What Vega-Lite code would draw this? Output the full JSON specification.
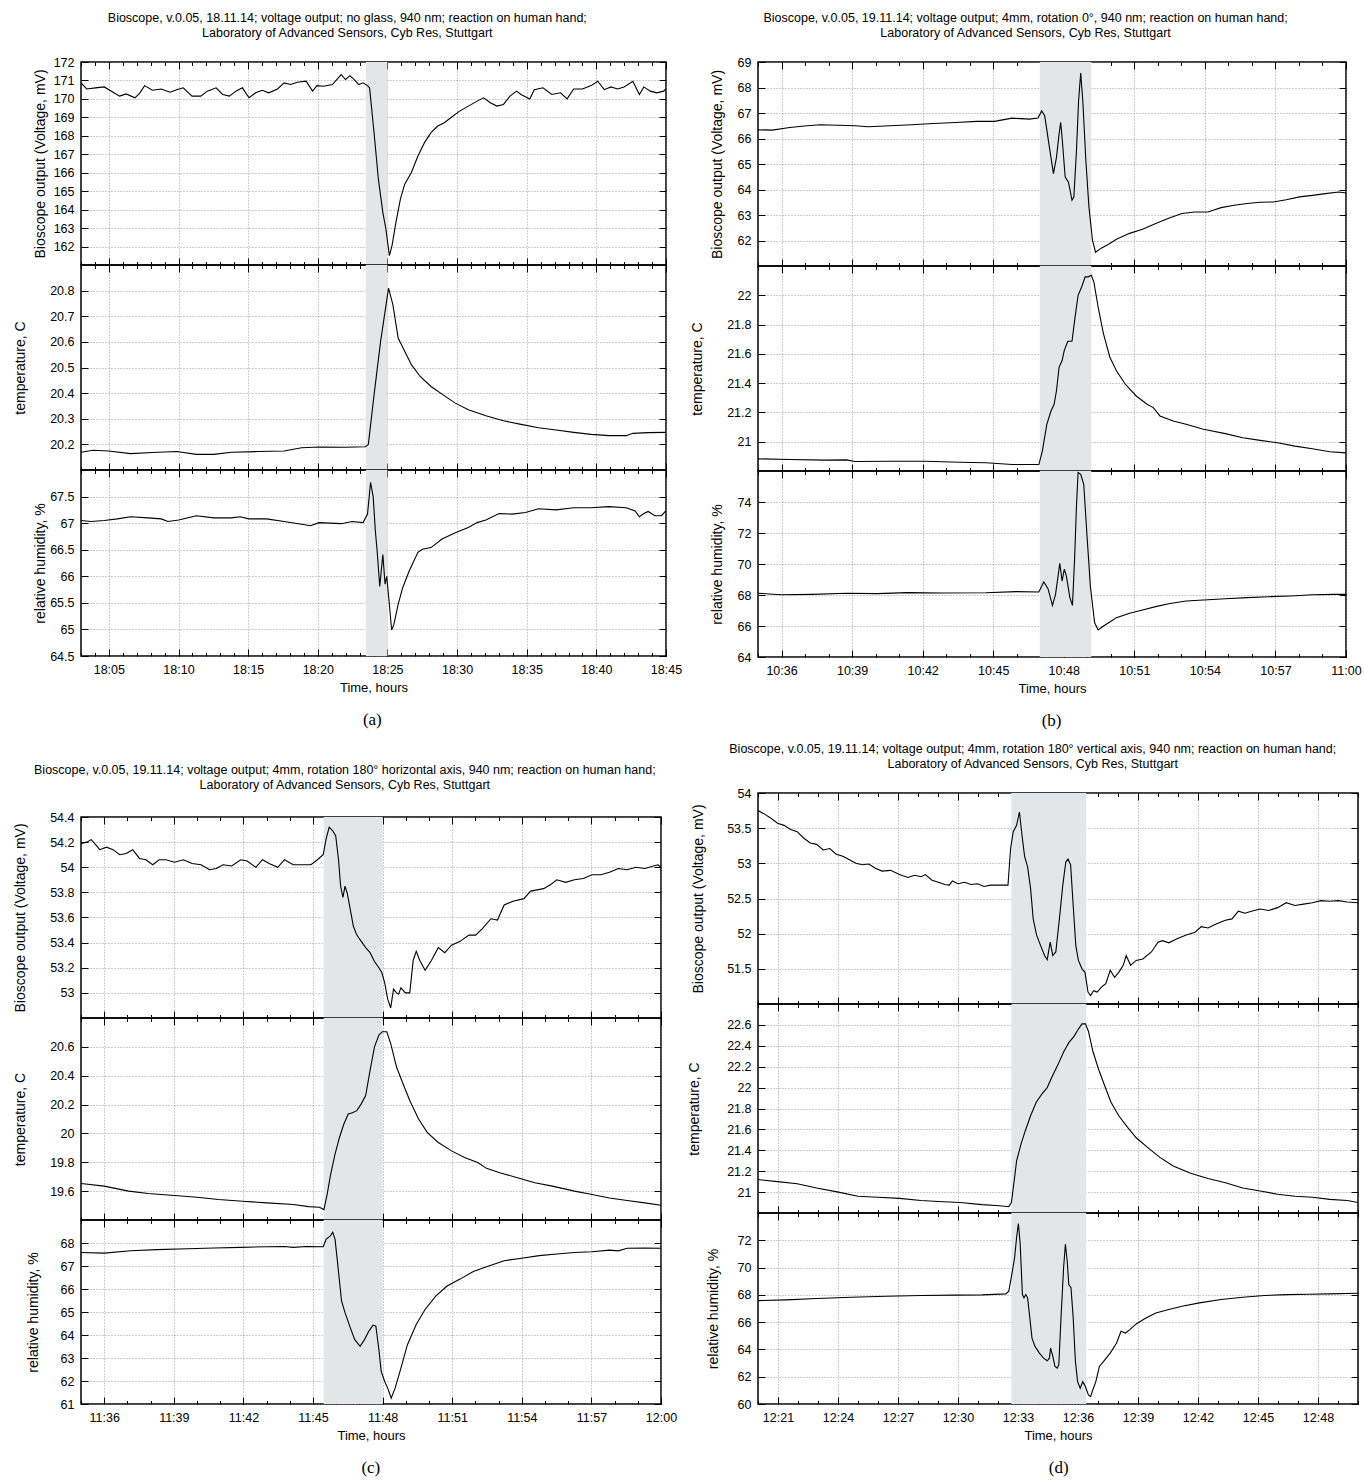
{
"$schema": "https://vega.github.io/schema/vega-lite/v6.json",
"padding": {"left": 12, "top": 11, "right": 0, "bottom": 5},
"background": "white",
"config": {
  "font": "Liberation Sans",
  "view": {"stroke": "#000", "strokeWidth": 1.5},
  "axis": {"labelFont": "Liberation Sans", "labelFontSize": 12.5, "labelColor": "#000", "titleFont": "Liberation Sans", "titleFontSize": 14, "titleFontWeight": "normal", "titleColor": "#000", "tickColor": "#000", "tickWidth": 1, "gridColor": "#808080", "gridDash": [1, 2], "gridWidth": 0.8, "labelFlush": false, "domain": false, "zindex": 1},
  "axisX": {"titleFontSize": 13},
  "title": {"font": "Liberation Sans", "fontSize": 12.5, "fontWeight": "normal", "color": "#000", "lineHeight": 15, "anchor": "middle"},
  "line": {"color": "#000", "strokeWidth": 1.1},
  "rect": {"color": "#e4e5e7"}
},
"datasets": {
"sa": [{"t0": 1103.45, "t1": 1105.0}],
"sb": [{"t0": 646.98, "t1": 649.17}],
"sc": [{"t0": 705.46, "t1": 708.0}],
"sd": [{"t0": 752.67, "t1": 756.41}],
"a1": [{"t":1083.00,"v":170.87},{"t":1083.41,"v":170.54},{"t":1084.04,"v":170.6},{"t":1084.67,"v":170.65},{"t":1085.30,"v":170.36},{"t":1085.77,"v":170.15},{"t":1086.24,"v":170.27},{"t":1086.87,"v":170.06},{"t":1087.19,"v":170.29},{"t":1087.57,"v":170.72},{"t":1088.13,"v":170.47},{"t":1088.76,"v":170.54},{"t":1089.39,"v":170.36},{"t":1089.87,"v":170.5},{"t":1090.34,"v":170.6},{"t":1090.97,"v":170.15},{"t":1091.60,"v":170.15},{"t":1092.07,"v":170.42},{"t":1092.70,"v":170.6},{"t":1093.17,"v":170.24},{"t":1093.65,"v":170.15},{"t":1094.12,"v":170.42},{"t":1094.59,"v":170.6},{"t":1095.06,"v":170.06},{"t":1095.54,"v":170.33},{"t":1096.01,"v":170.47},{"t":1096.48,"v":170.33},{"t":1097.11,"v":170.54},{"t":1097.58,"v":170.87},{"t":1098.06,"v":170.78},{"t":1098.53,"v":170.9},{"t":1099.16,"v":170.96},{"t":1099.63,"v":170.42},{"t":1099.94,"v":170.72},{"t":1100.42,"v":170.69},{"t":1101.05,"v":170.78},{"t":1101.68,"v":171.32},{"t":1101.99,"v":171.05},{"t":1102.31,"v":171.26},{"t":1102.62,"v":171.05},{"t":1102.94,"v":170.78},{"t":1103.25,"v":170.87},{"t":1103.57,"v":170.72},{"t":1103.72,"v":170.6},{"t":1104.04,"v":168.17},{"t":1104.35,"v":165.65},{"t":1104.67,"v":163.85},{"t":1104.89,"v":162.95},{"t":1105.14,"v":161.51},{"t":1105.33,"v":162.05},{"t":1105.61,"v":163.31},{"t":1105.93,"v":164.57},{"t":1106.24,"v":165.38},{"t":1106.72,"v":166.01},{"t":1107.19,"v":166.91},{"t":1107.66,"v":167.63},{"t":1108.13,"v":168.17},{"t":1108.61,"v":168.53},{"t":1109.08,"v":168.71},{"t":1109.55,"v":168.98},{"t":1110.18,"v":169.34},{"t":1110.81,"v":169.61},{"t":1111.44,"v":169.88},{"t":1111.91,"v":170.06},{"t":1112.39,"v":169.79},{"t":1112.86,"v":169.61},{"t":1113.33,"v":169.7},{"t":1113.80,"v":170.15},{"t":1114.28,"v":170.42},{"t":1114.59,"v":170.24},{"t":1115.22,"v":170.0},{"t":1115.54,"v":170.5},{"t":1116.17,"v":170.6},{"t":1116.80,"v":170.24},{"t":1117.43,"v":170.33},{"t":1117.90,"v":170.0},{"t":1118.37,"v":170.54},{"t":1119.00,"v":170.54},{"t":1119.63,"v":170.72},{"t":1120.10,"v":170.96},{"t":1120.57,"v":170.5},{"t":1121.05,"v":170.65},{"t":1121.52,"v":170.54},{"t":1121.99,"v":170.65},{"t":1122.62,"v":170.96},{"t":1123.09,"v":170.24},{"t":1123.41,"v":170.65},{"t":1123.87,"v":170.42},{"t":1124.35,"v":170.33},{"t":1124.83,"v":170.42},{"t":1124.98,"v":170.54}],
"a2": [{"t":1083.00,"v":20.169},{"t":1083.88,"v":20.177},{"t":1084.98,"v":20.174},{"t":1086.56,"v":20.164},{"t":1088.13,"v":20.168},{"t":1089.87,"v":20.172},{"t":1091.28,"v":20.161},{"t":1092.54,"v":20.161},{"t":1093.80,"v":20.169},{"t":1095.69,"v":20.172},{"t":1097.58,"v":20.174},{"t":1098.84,"v":20.187},{"t":1100.10,"v":20.190},{"t":1101.99,"v":20.189},{"t":1103.41,"v":20.191},{"t":1103.63,"v":20.2},{"t":1104.04,"v":20.393},{"t":1104.51,"v":20.602},{"t":1105.08,"v":20.810},{"t":1105.39,"v":20.745},{"t":1105.77,"v":20.615},{"t":1106.24,"v":20.563},{"t":1106.72,"v":20.511},{"t":1107.35,"v":20.465},{"t":1108.13,"v":20.426},{"t":1108.92,"v":20.396},{"t":1109.87,"v":20.361},{"t":1110.81,"v":20.335},{"t":1112.07,"v":20.312},{"t":1113.33,"v":20.292},{"t":1114.59,"v":20.278},{"t":1115.85,"v":20.265},{"t":1117.11,"v":20.256},{"t":1118.37,"v":20.247},{"t":1119.63,"v":20.239},{"t":1120.89,"v":20.234},{"t":1122.15,"v":20.234},{"t":1122.62,"v":20.243},{"t":1123.72,"v":20.246},{"t":1124.98,"v":20.247}],
"a3": [{"t":1083.00,"v":67.05},{"t":1083.72,"v":67.03},{"t":1084.67,"v":67.05},{"t":1085.61,"v":67.08},{"t":1086.56,"v":67.12},{"t":1087.82,"v":67.10},{"t":1088.76,"v":67.08},{"t":1089.24,"v":67.03},{"t":1090.02,"v":67.06},{"t":1091.28,"v":67.14},{"t":1092.54,"v":67.10},{"t":1093.80,"v":67.10},{"t":1094.43,"v":67.12},{"t":1095.06,"v":67.08},{"t":1096.32,"v":67.08},{"t":1097.58,"v":67.03},{"t":1098.84,"v":66.98},{"t":1099.47,"v":66.95},{"t":1100.10,"v":67.01},{"t":1101.68,"v":66.99},{"t":1102.46,"v":67.03},{"t":1103.25,"v":67.01},{"t":1103.57,"v":67.17},{"t":1103.79,"v":67.77},{"t":1103.98,"v":67.49},{"t":1104.13,"v":66.86},{"t":1104.26,"v":66.48},{"t":1104.45,"v":65.81},{"t":1104.67,"v":66.41},{"t":1104.83,"v":65.85},{"t":1104.95,"v":66.0},{"t":1105.05,"v":65.72},{"t":1105.14,"v":65.47},{"t":1105.30,"v":64.99},{"t":1105.46,"v":65.09},{"t":1105.77,"v":65.47},{"t":1106.09,"v":65.78},{"t":1106.56,"v":66.10},{"t":1107.19,"v":66.45},{"t":1107.50,"v":66.51},{"t":1108.13,"v":66.54},{"t":1108.92,"v":66.70},{"t":1109.87,"v":66.82},{"t":1110.81,"v":66.92},{"t":1111.44,"v":67.01},{"t":1112.07,"v":67.06},{"t":1113.02,"v":67.18},{"t":1113.96,"v":67.17},{"t":1114.91,"v":67.20},{"t":1115.85,"v":67.27},{"t":1117.11,"v":67.25},{"t":1118.37,"v":67.29},{"t":1119.63,"v":67.29},{"t":1120.89,"v":67.31},{"t":1122.15,"v":67.29},{"t":1122.78,"v":67.23},{"t":1123.09,"v":67.12},{"t":1123.41,"v":67.18},{"t":1123.72,"v":67.22},{"t":1124.20,"v":67.14},{"t":1124.67,"v":67.14},{"t":1124.98,"v":67.23}],
"b1": [{"t":635.00,"v":66.34},{"t":635.61,"v":66.33},{"t":636.35,"v":66.43},{"t":637.09,"v":66.50},{"t":637.65,"v":66.54},{"t":638.39,"v":66.52},{"t":639.13,"v":66.50},{"t":639.69,"v":66.46},{"t":640.61,"v":66.50},{"t":641.54,"v":66.54},{"t":642.46,"v":66.59},{"t":643.39,"v":66.63},{"t":644.31,"v":66.67},{"t":645.06,"v":66.67},{"t":645.80,"v":66.80},{"t":646.54,"v":66.76},{"t":646.91,"v":66.80},{"t":647.06,"v":67.08},{"t":647.19,"v":66.89},{"t":647.37,"v":65.78},{"t":647.56,"v":64.62},{"t":647.69,"v":65.26},{"t":647.80,"v":66.17},{"t":647.87,"v":66.63},{"t":647.94,"v":65.91},{"t":648.06,"v":64.49},{"t":648.20,"v":64.29},{"t":648.35,"v":63.58},{"t":648.43,"v":63.71},{"t":648.54,"v":65.52},{"t":648.63,"v":67.47},{"t":648.72,"v":68.57},{"t":648.81,"v":67.47},{"t":648.94,"v":65.13},{"t":649.07,"v":63.32},{"t":649.22,"v":62.02},{"t":649.35,"v":61.54},{"t":649.59,"v":61.70},{"t":649.87,"v":61.83},{"t":650.24,"v":62.05},{"t":650.80,"v":62.28},{"t":651.35,"v":62.44},{"t":651.91,"v":62.67},{"t":652.46,"v":62.87},{"t":653.02,"v":63.06},{"t":653.57,"v":63.12},{"t":654.13,"v":63.12},{"t":654.69,"v":63.29},{"t":655.24,"v":63.38},{"t":655.80,"v":63.45},{"t":656.35,"v":63.50},{"t":656.91,"v":63.51},{"t":657.46,"v":63.60},{"t":658.02,"v":63.71},{"t":658.57,"v":63.77},{"t":659.13,"v":63.84},{"t":659.69,"v":63.90},{"t":660.00,"v":63.86}],
"b2": [{"t":635.00,"v":20.883},{"t":636.35,"v":20.879},{"t":637.83,"v":20.874},{"t":638.76,"v":20.876},{"t":639.13,"v":20.865},{"t":640.61,"v":20.867},{"t":642.09,"v":20.867},{"t":643.57,"v":20.860},{"t":644.69,"v":20.856},{"t":645.80,"v":20.844},{"t":646.94,"v":20.844},{"t":647.09,"v":20.936},{"t":647.28,"v":21.119},{"t":647.46,"v":21.211},{"t":647.59,"v":21.256},{"t":647.69,"v":21.348},{"t":647.80,"v":21.508},{"t":647.93,"v":21.554},{"t":648.02,"v":21.622},{"t":648.17,"v":21.686},{"t":648.35,"v":21.686},{"t":648.48,"v":21.851},{"t":648.61,"v":22.0},{"t":648.76,"v":22.057},{"t":648.91,"v":22.126},{"t":649.04,"v":22.126},{"t":649.17,"v":22.137},{"t":649.28,"v":22.092},{"t":649.46,"v":21.920},{"t":649.69,"v":21.737},{"t":649.96,"v":21.577},{"t":650.24,"v":21.485},{"t":650.61,"v":21.394},{"t":651.07,"v":21.314},{"t":651.54,"v":21.256},{"t":651.81,"v":21.233},{"t":652.09,"v":21.176},{"t":652.65,"v":21.142},{"t":653.20,"v":21.119},{"t":653.94,"v":21.085},{"t":654.87,"v":21.055},{"t":655.61,"v":21.027},{"t":656.35,"v":21.009},{"t":657.09,"v":20.993},{"t":657.83,"v":20.970},{"t":658.57,"v":20.952},{"t":659.31,"v":20.931},{"t":660.00,"v":20.924}],
"b3": [{"t":635.00,"v":68.11},{"t":635.98,"v":68.02},{"t":637.28,"v":68.04},{"t":638.76,"v":68.11},{"t":640.06,"v":68.09},{"t":641.35,"v":68.15},{"t":642.83,"v":68.13},{"t":644.69,"v":68.15},{"t":645.98,"v":68.22},{"t":646.94,"v":68.19},{"t":647.15,"v":68.84},{"t":647.33,"v":68.41},{"t":647.52,"v":67.33},{"t":647.65,"v":68.04},{"t":647.76,"v":69.23},{"t":647.83,"v":70.04},{"t":647.93,"v":68.90},{"t":648.02,"v":69.66},{"t":648.11,"v":69.23},{"t":648.26,"v":67.83},{"t":648.37,"v":67.33},{"t":648.46,"v":70.30},{"t":648.54,"v":73.74},{"t":648.61,"v":75.9},{"t":648.72,"v":75.78},{"t":648.85,"v":75.14},{"t":648.98,"v":72.02},{"t":649.13,"v":68.58},{"t":649.31,"v":66.22},{"t":649.46,"v":65.74},{"t":649.69,"v":66.00},{"t":649.96,"v":66.26},{"t":650.24,"v":66.54},{"t":650.80,"v":66.82},{"t":651.35,"v":67.03},{"t":651.91,"v":67.25},{"t":652.46,"v":67.44},{"t":653.20,"v":67.61},{"t":653.94,"v":67.68},{"t":654.87,"v":67.76},{"t":655.80,"v":67.83},{"t":656.72,"v":67.89},{"t":657.65,"v":67.94},{"t":658.57,"v":68.02},{"t":659.50,"v":68.04},{"t":660.00,"v":68.04}],
"c1": [{"t":695.00,"v":54.19},{"t":695.25,"v":54.20},{"t":695.44,"v":54.22},{"t":695.63,"v":54.18},{"t":695.81,"v":54.14},{"t":696.10,"v":54.16},{"t":696.38,"v":54.14},{"t":696.67,"v":54.10},{"t":696.95,"v":54.11},{"t":697.23,"v":54.14},{"t":697.52,"v":54.07},{"t":697.80,"v":54.06},{"t":698.09,"v":54.02},{"t":698.37,"v":54.06},{"t":698.66,"v":54.06},{"t":699.03,"v":54.04},{"t":699.41,"v":54.06},{"t":699.79,"v":54.03},{"t":700.17,"v":54.02},{"t":700.55,"v":53.98},{"t":700.83,"v":53.99},{"t":701.12,"v":54.02},{"t":701.50,"v":54.01},{"t":701.88,"v":54.06},{"t":702.16,"v":54.05},{"t":702.54,"v":54.00},{"t":702.82,"v":54.06},{"t":703.11,"v":54.03},{"t":703.48,"v":54.00},{"t":703.77,"v":54.06},{"t":704.15,"v":54.02},{"t":704.53,"v":54.02},{"t":704.91,"v":54.02},{"t":705.19,"v":54.06},{"t":705.44,"v":54.10},{"t":705.57,"v":54.23},{"t":705.70,"v":54.32},{"t":705.85,"v":54.29},{"t":705.98,"v":54.25},{"t":706.10,"v":54.06},{"t":706.19,"v":53.85},{"t":706.29,"v":53.76},{"t":706.38,"v":53.85},{"t":706.48,"v":53.79},{"t":706.61,"v":53.66},{"t":706.74,"v":53.53},{"t":706.89,"v":53.46},{"t":707.08,"v":53.41},{"t":707.27,"v":53.36},{"t":707.46,"v":53.32},{"t":707.65,"v":53.25},{"t":707.84,"v":53.20},{"t":707.97,"v":53.16},{"t":708.09,"v":53.08},{"t":708.22,"v":52.95},{"t":708.35,"v":52.88},{"t":708.47,"v":53.03},{"t":708.60,"v":53.00},{"t":708.69,"v":52.99},{"t":708.79,"v":53.04},{"t":708.98,"v":53.00},{"t":709.17,"v":53.00},{"t":709.32,"v":53.26},{"t":709.45,"v":53.33},{"t":709.60,"v":53.26},{"t":709.83,"v":53.18},{"t":710.11,"v":53.26},{"t":710.40,"v":53.36},{"t":710.68,"v":53.32},{"t":710.97,"v":53.38},{"t":711.34,"v":53.41},{"t":711.72,"v":53.46},{"t":712.01,"v":53.46},{"t":712.29,"v":53.51},{"t":712.67,"v":53.59},{"t":712.95,"v":53.58},{"t":713.24,"v":53.70},{"t":713.62,"v":53.73},{"t":714.09,"v":53.75},{"t":714.38,"v":53.81},{"t":714.66,"v":53.82},{"t":714.94,"v":53.83},{"t":715.23,"v":53.86},{"t":715.51,"v":53.90},{"t":715.89,"v":53.88},{"t":716.27,"v":53.90},{"t":716.65,"v":53.91},{"t":717.03,"v":53.94},{"t":717.41,"v":53.94},{"t":717.78,"v":53.96},{"t":718.16,"v":53.99},{"t":718.54,"v":53.98},{"t":718.92,"v":54.00},{"t":719.30,"v":53.99},{"t":719.68,"v":54.01},{"t":719.87,"v":54.02},{"t":720.00,"v":54.00}],
"c2": [{"t":695.00,"v":19.653},{"t":696.00,"v":19.635},{"t":697.05,"v":19.600},{"t":697.90,"v":19.584},{"t":699.03,"v":19.570},{"t":700.00,"v":19.558},{"t":700.93,"v":19.542},{"t":701.97,"v":19.530},{"t":703.01,"v":19.519},{"t":704.15,"v":19.507},{"t":704.81,"v":19.493},{"t":705.28,"v":19.488},{"t":705.47,"v":19.472},{"t":705.61,"v":19.577},{"t":705.76,"v":19.716},{"t":705.95,"v":19.856},{"t":706.14,"v":19.972},{"t":706.33,"v":20.065},{"t":706.52,"v":20.135},{"t":706.70,"v":20.144},{"t":706.89,"v":20.158},{"t":707.08,"v":20.205},{"t":707.27,"v":20.263},{"t":707.46,"v":20.437},{"t":707.65,"v":20.600},{"t":707.84,"v":20.681},{"t":707.99,"v":20.705},{"t":708.18,"v":20.705},{"t":708.35,"v":20.623},{"t":708.60,"v":20.460},{"t":708.88,"v":20.344},{"t":709.17,"v":20.228},{"t":709.55,"v":20.100},{"t":709.92,"v":20.007},{"t":710.40,"v":19.937},{"t":710.97,"v":19.879},{"t":711.53,"v":19.833},{"t":712.10,"v":19.798},{"t":712.48,"v":19.758},{"t":713.05,"v":19.728},{"t":713.81,"v":19.693},{"t":714.56,"v":19.658},{"t":715.32,"v":19.635},{"t":716.27,"v":19.600},{"t":717.03,"v":19.577},{"t":717.78,"v":19.553},{"t":718.54,"v":19.535},{"t":719.30,"v":19.519},{"t":720.00,"v":19.502}],
"c3": [{"t":695.00,"v":67.59},{"t":696.00,"v":67.56},{"t":697.14,"v":67.66},{"t":698.28,"v":67.71},{"t":699.60,"v":67.75},{"t":700.74,"v":67.78},{"t":701.88,"v":67.81},{"t":703.01,"v":67.84},{"t":703.77,"v":67.85},{"t":704.15,"v":67.81},{"t":704.72,"v":67.85},{"t":705.44,"v":67.84},{"t":705.57,"v":68.17},{"t":705.76,"v":68.32},{"t":705.85,"v":68.47},{"t":705.95,"v":68.17},{"t":706.08,"v":66.94},{"t":706.23,"v":65.48},{"t":706.38,"v":64.97},{"t":706.61,"v":64.31},{"t":706.80,"v":63.80},{"t":707.03,"v":63.51},{"t":707.22,"v":63.80},{"t":707.41,"v":64.17},{"t":707.59,"v":64.43},{"t":707.71,"v":64.38},{"t":707.84,"v":63.36},{"t":707.94,"v":62.42},{"t":708.09,"v":61.98},{"t":708.22,"v":61.69},{"t":708.37,"v":61.25},{"t":708.54,"v":61.69},{"t":708.79,"v":62.56},{"t":709.07,"v":63.58},{"t":709.45,"v":64.46},{"t":709.83,"v":65.11},{"t":710.30,"v":65.70},{"t":710.78,"v":66.13},{"t":711.34,"v":66.43},{"t":711.91,"v":66.76},{"t":712.48,"v":66.97},{"t":713.24,"v":67.23},{"t":714.00,"v":67.34},{"t":714.75,"v":67.45},{"t":715.51,"v":67.52},{"t":716.27,"v":67.59},{"t":717.03,"v":67.62},{"t":717.78,"v":67.69},{"t":718.16,"v":67.66},{"t":718.54,"v":67.77},{"t":719.30,"v":67.78},{"t":720.00,"v":67.77}],
"d1": [{"t":740.00,"v":53.75},{"t":740.33,"v":53.70},{"t":740.65,"v":53.64},{"t":740.98,"v":53.57},{"t":741.30,"v":53.54},{"t":741.63,"v":53.48},{"t":741.96,"v":53.45},{"t":742.28,"v":53.36},{"t":742.61,"v":53.29},{"t":742.93,"v":53.27},{"t":743.26,"v":53.19},{"t":743.59,"v":53.21},{"t":743.91,"v":53.13},{"t":744.24,"v":53.10},{"t":744.57,"v":53.05},{"t":744.89,"v":53.00},{"t":745.22,"v":52.98},{"t":745.54,"v":52.99},{"t":745.87,"v":52.93},{"t":746.20,"v":52.89},{"t":746.63,"v":52.90},{"t":747.07,"v":52.84},{"t":747.50,"v":52.80},{"t":747.83,"v":52.83},{"t":748.15,"v":52.81},{"t":748.37,"v":52.84},{"t":748.70,"v":52.76},{"t":749.02,"v":52.73},{"t":749.35,"v":52.70},{"t":749.57,"v":52.69},{"t":749.72,"v":52.75},{"t":750.00,"v":52.71},{"t":750.33,"v":52.73},{"t":750.65,"v":52.70},{"t":750.98,"v":52.71},{"t":751.30,"v":52.67},{"t":751.63,"v":52.69},{"t":752.07,"v":52.69},{"t":752.50,"v":52.69},{"t":752.63,"v":53.21},{"t":752.76,"v":53.45},{"t":752.93,"v":53.54},{"t":753.07,"v":53.73},{"t":753.20,"v":53.40},{"t":753.33,"v":53.10},{"t":753.48,"v":52.95},{"t":753.63,"v":52.64},{"t":753.76,"v":52.21},{"t":753.93,"v":51.98},{"t":754.13,"v":51.83},{"t":754.33,"v":51.69},{"t":754.46,"v":51.63},{"t":754.61,"v":51.88},{"t":754.74,"v":51.69},{"t":754.89,"v":51.74},{"t":755.07,"v":52.21},{"t":755.24,"v":52.69},{"t":755.39,"v":53.02},{"t":755.50,"v":53.06},{"t":755.63,"v":52.98},{"t":755.76,"v":52.40},{"t":755.89,"v":51.83},{"t":756.02,"v":51.62},{"t":756.20,"v":51.50},{"t":756.35,"v":51.45},{"t":756.50,"v":51.17},{"t":756.63,"v":51.12},{"t":756.78,"v":51.19},{"t":756.96,"v":51.17},{"t":757.17,"v":51.24},{"t":757.39,"v":51.29},{"t":757.61,"v":51.48},{"t":757.83,"v":51.38},{"t":758.04,"v":51.45},{"t":758.26,"v":51.55},{"t":758.41,"v":51.69},{"t":758.63,"v":51.55},{"t":758.91,"v":51.62},{"t":759.24,"v":51.64},{"t":759.67,"v":51.74},{"t":760.00,"v":51.88},{"t":760.22,"v":51.90},{"t":760.54,"v":51.87},{"t":760.98,"v":51.93},{"t":761.41,"v":51.98},{"t":761.85,"v":52.02},{"t":762.17,"v":52.10},{"t":762.50,"v":52.08},{"t":762.93,"v":52.14},{"t":763.37,"v":52.19},{"t":763.70,"v":52.21},{"t":764.02,"v":52.32},{"t":764.35,"v":52.29},{"t":764.67,"v":52.32},{"t":765.11,"v":52.35},{"t":765.54,"v":52.33},{"t":765.98,"v":52.37},{"t":766.41,"v":52.44},{"t":766.85,"v":52.40},{"t":767.28,"v":52.42},{"t":767.72,"v":52.44},{"t":768.15,"v":52.47},{"t":768.59,"v":52.46},{"t":769.02,"v":52.47},{"t":769.46,"v":52.45},{"t":770.00,"v":52.44}],
"d2": [{"t":740.00,"v":21.12},{"t":740.98,"v":21.10},{"t":741.96,"v":21.08},{"t":742.93,"v":21.04},{"t":744.02,"v":21.00},{"t":745.00,"v":20.96},{"t":745.98,"v":20.95},{"t":747.07,"v":20.94},{"t":748.15,"v":20.92},{"t":749.02,"v":20.91},{"t":750.11,"v":20.90},{"t":751.20,"v":20.88},{"t":752.07,"v":20.87},{"t":752.54,"v":20.86},{"t":752.67,"v":20.90},{"t":752.83,"v":21.14},{"t":752.93,"v":21.30},{"t":753.15,"v":21.46},{"t":753.37,"v":21.59},{"t":753.63,"v":21.73},{"t":753.91,"v":21.86},{"t":754.20,"v":21.94},{"t":754.46,"v":22.00},{"t":754.72,"v":22.11},{"t":755.00,"v":22.22},{"t":755.28,"v":22.34},{"t":755.54,"v":22.43},{"t":755.80,"v":22.49},{"t":756.02,"v":22.56},{"t":756.20,"v":22.61},{"t":756.37,"v":22.61},{"t":756.52,"v":22.54},{"t":756.74,"v":22.35},{"t":757.02,"v":22.18},{"t":757.33,"v":22.02},{"t":757.65,"v":21.86},{"t":758.04,"v":21.73},{"t":758.48,"v":21.62},{"t":758.91,"v":21.52},{"t":759.46,"v":21.43},{"t":760.11,"v":21.33},{"t":760.76,"v":21.25},{"t":761.63,"v":21.18},{"t":762.50,"v":21.13},{"t":763.37,"v":21.09},{"t":764.24,"v":21.04},{"t":765.11,"v":21.01},{"t":765.98,"v":20.98},{"t":766.85,"v":20.96},{"t":767.72,"v":20.95},{"t":768.59,"v":20.93},{"t":769.46,"v":20.92},{"t":770.00,"v":20.90}],
"d3": [{"t":740.00,"v":67.58},{"t":741.41,"v":67.63},{"t":742.93,"v":67.73},{"t":744.67,"v":67.83},{"t":746.41,"v":67.90},{"t":748.15,"v":67.95},{"t":749.89,"v":67.98},{"t":751.20,"v":68.00},{"t":752.39,"v":68.07},{"t":752.54,"v":68.27},{"t":752.72,"v":69.74},{"t":752.83,"v":70.72},{"t":752.93,"v":72.20},{"t":753.02,"v":73.23},{"t":753.11,"v":71.71},{"t":753.22,"v":68.02},{"t":753.30,"v":67.78},{"t":753.39,"v":68.02},{"t":753.48,"v":67.78},{"t":753.59,"v":66.31},{"t":753.70,"v":64.83},{"t":753.85,"v":64.22},{"t":754.07,"v":63.73},{"t":754.28,"v":63.36},{"t":754.46,"v":63.17},{"t":754.57,"v":63.36},{"t":754.63,"v":64.10},{"t":754.72,"v":63.61},{"t":754.85,"v":62.75},{"t":754.96,"v":62.63},{"t":755.04,"v":62.87},{"t":755.15,"v":66.31},{"t":755.28,"v":69.99},{"t":755.37,"v":71.71},{"t":755.46,"v":70.48},{"t":755.54,"v":68.76},{"t":755.65,"v":68.52},{"t":755.76,"v":66.31},{"t":755.87,"v":63.12},{"t":755.98,"v":61.64},{"t":756.11,"v":61.15},{"t":756.24,"v":61.64},{"t":756.37,"v":61.28},{"t":756.52,"v":60.66},{"t":756.63,"v":60.54},{"t":756.74,"v":61.03},{"t":756.89,"v":61.64},{"t":757.07,"v":62.75},{"t":757.28,"v":63.12},{"t":757.61,"v":63.73},{"t":757.93,"v":64.47},{"t":758.15,"v":65.33},{"t":758.37,"v":65.20},{"t":758.59,"v":65.45},{"t":758.91,"v":65.87},{"t":759.35,"v":66.26},{"t":759.89,"v":66.67},{"t":760.54,"v":66.92},{"t":761.20,"v":67.17},{"t":762.07,"v":67.41},{"t":763.15,"v":67.66},{"t":764.24,"v":67.83},{"t":765.33,"v":67.95},{"t":766.41,"v":68.02},{"t":767.50,"v":68.05},{"t":768.59,"v":68.07},{"t":770.00,"v":68.12}]
},
"spacing": 3,
"hconcat": [
{"spacing": 34, "vconcat": [
{"title": {"text": "(a)", "orient": "bottom", "font": "Liberation Serif", "fontSize": 17, "offset": 17, "dx": 25}, "spacing": 0, "vconcat": [
{"title": {"text": ["Bioscope, v.0.05, 18.11.14; voltage output; no glass, 940 nm; reaction on human hand;", "Laboratory of Advanced Sensors, Cyb Res, Stuttgart"], "offset": 16}, "spacing": 0, "bounds": "flush", "vconcat": [
{"width": 585, "height": 203, "layer": [
{"data": {"name": "sa"}, "mark": "rect", "encoding": {"x": {"field": "t0", "type": "quantitative", "scale": {"domain": [1083, 1125], "nice": false, "zero": false}, "axis": {"orient": "top", "values": [1083,1084,1085,1086,1087,1088,1089,1090,1091,1092,1093,1094,1095,1096,1097,1098,1099,1100,1101,1102,1103,1104,1105,1106,1107,1108,1109,1110,1111,1112,1113,1114,1115,1116,1117,1118,1119,1120,1121,1122,1123,1124,1125], "labels": false, "title": null, "tickSize": -3.5, "grid": false}}, "x2": {"field": "t1"}}},
{"data": {"name": "a1"}, "mark": {"type": "line", "clip": true}, "encoding": {"x": {"field": "t", "type": "quantitative", "axis": {"orient": "bottom", "values": [1085,1090,1095,1100,1105,1110,1115,1120,1125], "labels": false, "title": null, "tickSize": -7, "grid": true}}, "y": {"field": "v", "type": "quantitative", "scale": {"domain": [161, 172], "nice": false, "zero": false}, "axis": {"orient": "left", "values": [162,163,164,165,166,167,168,169,170,171,172], "format": "~g", "title": "Bioscope output (Voltage, mV)", "titleX": -34, "titleY": 101.5, "tickSize": -7, "labelPadding": 14, "grid": true}}}},
{"data": {"name": "a1"}, "mark": {"type": "line", "opacity": 0}, "encoding": {"x": {"field": "t", "type": "quantitative", "axis": {"orient": "bottom", "values": [1083,1084,1085,1086,1087,1088,1089,1090,1091,1092,1093,1094,1095,1096,1097,1098,1099,1100,1101,1102,1103,1104,1105,1106,1107,1108,1109,1110,1111,1112,1113,1114,1115,1116,1117,1118,1119,1120,1121,1122,1123,1124,1125], "labels": false, "title": null, "tickSize": -3.5, "grid": false}}, "y": {"field": "v", "type": "quantitative", "axis": {"orient": "right", "values": [162,163,164,165,166,167,168,169,170,171,172], "labels": false, "title": null, "tickSize": -7, "grid": false}}}},
{"data": {"name": "a1"}, "mark": {"type": "line", "opacity": 0}, "encoding": {"x": {"field": "t", "type": "quantitative", "axis": {"orient": "top", "values": [1085,1090,1095,1100,1105,1110,1115,1120,1125], "labels": false, "title": null, "tickSize": -7, "grid": false}}, "y": {"field": "v", "type": "quantitative", "axis": null}}}
], "resolve": {"axis": {"x": "independent", "y": "independent"}}},
{"width": 585, "height": 205, "layer": [
{"data": {"name": "sa"}, "mark": "rect", "encoding": {"x": {"field": "t0", "type": "quantitative", "scale": {"domain": [1083, 1125], "nice": false, "zero": false}, "axis": {"orient": "top", "values": [1083,1084,1085,1086,1087,1088,1089,1090,1091,1092,1093,1094,1095,1096,1097,1098,1099,1100,1101,1102,1103,1104,1105,1106,1107,1108,1109,1110,1111,1112,1113,1114,1115,1116,1117,1118,1119,1120,1121,1122,1123,1124,1125], "labels": false, "title": null, "tickSize": -3.5, "grid": false}}, "x2": {"field": "t1"}}},
{"data": {"name": "a2"}, "mark": {"type": "line", "clip": true}, "encoding": {"x": {"field": "t", "type": "quantitative", "axis": {"orient": "bottom", "values": [1085,1090,1095,1100,1105,1110,1115,1120,1125], "labels": false, "title": null, "tickSize": -7, "grid": true}}, "y": {"field": "v", "type": "quantitative", "scale": {"domain": [20.1, 20.9], "nice": false, "zero": false}, "axis": {"orient": "left", "values": [20.2,20.3,20.4,20.5,20.6,20.7,20.8], "format": "~g", "title": "temperature, C", "titleX": -54, "titleY": 102.5, "tickSize": -7, "labelPadding": 14, "grid": true}}}},
{"data": {"name": "a2"}, "mark": {"type": "line", "opacity": 0}, "encoding": {"x": {"field": "t", "type": "quantitative", "axis": {"orient": "bottom", "values": [1083,1084,1085,1086,1087,1088,1089,1090,1091,1092,1093,1094,1095,1096,1097,1098,1099,1100,1101,1102,1103,1104,1105,1106,1107,1108,1109,1110,1111,1112,1113,1114,1115,1116,1117,1118,1119,1120,1121,1122,1123,1124,1125], "labels": false, "title": null, "tickSize": -3.5, "grid": false}}, "y": {"field": "v", "type": "quantitative", "axis": {"orient": "right", "values": [20.2,20.3,20.4,20.5,20.6,20.7,20.8], "labels": false, "title": null, "tickSize": -7, "grid": false}}}},
{"data": {"name": "a2"}, "mark": {"type": "line", "opacity": 0}, "encoding": {"x": {"field": "t", "type": "quantitative", "axis": {"orient": "top", "values": [1085,1090,1095,1100,1105,1110,1115,1120,1125], "labels": false, "title": null, "tickSize": -7, "grid": false}}, "y": {"field": "v", "type": "quantitative", "axis": null}}}
], "resolve": {"axis": {"x": "independent", "y": "independent"}}},
{"width": 585, "height": 186, "layer": [
{"data": {"name": "sa"}, "mark": "rect", "encoding": {"x": {"field": "t0", "type": "quantitative", "scale": {"domain": [1083, 1125], "nice": false, "zero": false}, "axis": {"orient": "top", "values": [1083,1084,1085,1086,1087,1088,1089,1090,1091,1092,1093,1094,1095,1096,1097,1098,1099,1100,1101,1102,1103,1104,1105,1106,1107,1108,1109,1110,1111,1112,1113,1114,1115,1116,1117,1118,1119,1120,1121,1122,1123,1124,1125], "labels": false, "title": null, "tickSize": -3.5, "grid": false}}, "x2": {"field": "t1"}}},
{"data": {"name": "a3"}, "mark": {"type": "line", "clip": true}, "encoding": {"x": {"field": "t", "type": "quantitative", "axis": {"orient": "bottom", "values": [1085,1090,1095,1100,1105,1110,1115,1120,1125], "labelExpr": "floor(datum.value/60) + ':' + (datum.value % 60 < 10 ? '0' : '') + (datum.value % 60)", "title": "Time, hours", "tickSize": -7, "labelPadding": 14, "titlePadding": 6, "grid": true}}, "y": {"field": "v", "type": "quantitative", "scale": {"domain": [64.5, 68], "nice": false, "zero": false}, "axis": {"orient": "left", "values": [64.5,65,65.5,66,66.5,67,67.5], "format": "~g", "title": "relative humidity, %", "titleX": -34, "titleY": 93, "tickSize": -7, "labelPadding": 14, "grid": true}}}},
{"data": {"name": "a3"}, "mark": {"type": "line", "opacity": 0}, "encoding": {"x": {"field": "t", "type": "quantitative", "axis": {"orient": "bottom", "values": [1083,1084,1085,1086,1087,1088,1089,1090,1091,1092,1093,1094,1095,1096,1097,1098,1099,1100,1101,1102,1103,1104,1105,1106,1107,1108,1109,1110,1111,1112,1113,1114,1115,1116,1117,1118,1119,1120,1121,1122,1123,1124,1125], "labels": false, "title": null, "tickSize": -3.5, "grid": false}}, "y": {"field": "v", "type": "quantitative", "axis": {"orient": "right", "values": [64.5,65,65.5,66,66.5,67,67.5], "labels": false, "title": null, "tickSize": -7, "grid": false}}}},
{"data": {"name": "a3"}, "mark": {"type": "line", "opacity": 0}, "encoding": {"x": {"field": "t", "type": "quantitative", "axis": {"orient": "top", "values": [1085,1090,1095,1100,1105,1110,1115,1120,1125], "labels": false, "title": null, "tickSize": -7, "grid": false}}, "y": {"field": "v", "type": "quantitative", "axis": null}}}
], "resolve": {"axis": {"x": "independent", "y": "independent"}}}
]}]},
{"title": {"text": "(c)", "orient": "bottom", "font": "Liberation Serif", "fontSize": 17, "offset": 17, "dx": 26}, "spacing": 0, "vconcat": [
{"title": {"text": ["Bioscope, v.0.05, 19.11.14; voltage output; 4mm, rotation 180° horizontal axis, 940 nm; reaction on human hand;", "Laboratory of Advanced Sensors, Cyb Res, Stuttgart"], "offset": 19}, "spacing": 0, "bounds": "flush", "vconcat": [
{"width": 580, "height": 201, "layer": [
{"data": {"name": "sc"}, "mark": "rect", "encoding": {"x": {"field": "t0", "type": "quantitative", "scale": {"domain": [695, 720], "nice": false, "zero": false}, "axis": {"orient": "top", "values": [695,696,697,698,699,700,701,702,703,704,705,706,707,708,709,710,711,712,713,714,715,716,717,718,719,720], "labels": false, "title": null, "tickSize": -3.5, "grid": false}}, "x2": {"field": "t1"}}},
{"data": {"name": "c1"}, "mark": {"type": "line", "clip": true}, "encoding": {"x": {"field": "t", "type": "quantitative", "axis": {"orient": "bottom", "values": [696,699,702,705,708,711,714,717,720], "labels": false, "title": null, "tickSize": -7, "grid": true}}, "y": {"field": "v", "type": "quantitative", "scale": {"domain": [52.8, 54.4], "nice": false, "zero": false}, "axis": {"orient": "left", "values": [53,53.2,53.4,53.6,53.8,54,54.2,54.4], "format": "~g", "title": "Bioscope output (Voltage, mV)", "titleX": -54, "titleY": 100.5, "tickSize": -7, "labelPadding": 14, "grid": true}}}},
{"data": {"name": "c1"}, "mark": {"type": "line", "opacity": 0}, "encoding": {"x": {"field": "t", "type": "quantitative", "axis": {"orient": "bottom", "values": [695,696,697,698,699,700,701,702,703,704,705,706,707,708,709,710,711,712,713,714,715,716,717,718,719,720], "labels": false, "title": null, "tickSize": -3.5, "grid": false}}, "y": {"field": "v", "type": "quantitative", "axis": {"orient": "right", "values": [53,53.2,53.4,53.6,53.8,54,54.2,54.4], "labels": false, "title": null, "tickSize": -7, "grid": false}}}},
{"data": {"name": "c1"}, "mark": {"type": "line", "opacity": 0}, "encoding": {"x": {"field": "t", "type": "quantitative", "axis": {"orient": "top", "values": [696,699,702,705,708,711,714,717,720], "labels": false, "title": null, "tickSize": -7, "grid": false}}, "y": {"field": "v", "type": "quantitative", "axis": null}}}
], "resolve": {"axis": {"x": "independent", "y": "independent"}}},
{"width": 580, "height": 202, "layer": [
{"data": {"name": "sc"}, "mark": "rect", "encoding": {"x": {"field": "t0", "type": "quantitative", "scale": {"domain": [695, 720], "nice": false, "zero": false}, "axis": {"orient": "top", "values": [695,696,697,698,699,700,701,702,703,704,705,706,707,708,709,710,711,712,713,714,715,716,717,718,719,720], "labels": false, "title": null, "tickSize": -3.5, "grid": false}}, "x2": {"field": "t1"}}},
{"data": {"name": "c2"}, "mark": {"type": "line", "clip": true}, "encoding": {"x": {"field": "t", "type": "quantitative", "axis": {"orient": "bottom", "values": [696,699,702,705,708,711,714,717,720], "labels": false, "title": null, "tickSize": -7, "grid": true}}, "y": {"field": "v", "type": "quantitative", "scale": {"domain": [19.4, 20.8], "nice": false, "zero": false}, "axis": {"orient": "left", "values": [19.6,19.8,20,20.2,20.4,20.6], "format": "~g", "title": "temperature, C", "titleX": -54, "titleY": 101, "tickSize": -7, "labelPadding": 14, "grid": true}}}},
{"data": {"name": "c2"}, "mark": {"type": "line", "opacity": 0}, "encoding": {"x": {"field": "t", "type": "quantitative", "axis": {"orient": "bottom", "values": [695,696,697,698,699,700,701,702,703,704,705,706,707,708,709,710,711,712,713,714,715,716,717,718,719,720], "labels": false, "title": null, "tickSize": -3.5, "grid": false}}, "y": {"field": "v", "type": "quantitative", "axis": {"orient": "right", "values": [19.6,19.8,20,20.2,20.4,20.6], "labels": false, "title": null, "tickSize": -7, "grid": false}}}},
{"data": {"name": "c2"}, "mark": {"type": "line", "opacity": 0}, "encoding": {"x": {"field": "t", "type": "quantitative", "axis": {"orient": "top", "values": [696,699,702,705,708,711,714,717,720], "labels": false, "title": null, "tickSize": -7, "grid": false}}, "y": {"field": "v", "type": "quantitative", "axis": null}}}
], "resolve": {"axis": {"x": "independent", "y": "independent"}}},
{"width": 580, "height": 184, "layer": [
{"data": {"name": "sc"}, "mark": "rect", "encoding": {"x": {"field": "t0", "type": "quantitative", "scale": {"domain": [695, 720], "nice": false, "zero": false}, "axis": {"orient": "top", "values": [695,696,697,698,699,700,701,702,703,704,705,706,707,708,709,710,711,712,713,714,715,716,717,718,719,720], "labels": false, "title": null, "tickSize": -3.5, "grid": false}}, "x2": {"field": "t1"}}},
{"data": {"name": "c3"}, "mark": {"type": "line", "clip": true}, "encoding": {"x": {"field": "t", "type": "quantitative", "axis": {"orient": "bottom", "values": [696,699,702,705,708,711,714,717,720], "labelExpr": "floor(datum.value/60) + ':' + (datum.value % 60 < 10 ? '0' : '') + (datum.value % 60)", "title": "Time, hours", "tickSize": -7, "labelPadding": 14, "titlePadding": 6, "grid": true}}, "y": {"field": "v", "type": "quantitative", "scale": {"domain": [61, 69], "nice": false, "zero": false}, "axis": {"orient": "left", "values": [61,62,63,64,65,66,67,68], "format": "~g", "title": "relative humidity, %", "titleX": -41, "titleY": 92, "tickSize": -7, "labelPadding": 14, "grid": true}}}},
{"data": {"name": "c3"}, "mark": {"type": "line", "opacity": 0}, "encoding": {"x": {"field": "t", "type": "quantitative", "axis": {"orient": "bottom", "values": [695,696,697,698,699,700,701,702,703,704,705,706,707,708,709,710,711,712,713,714,715,716,717,718,719,720], "labels": false, "title": null, "tickSize": -3.5, "grid": false}}, "y": {"field": "v", "type": "quantitative", "axis": {"orient": "right", "values": [61,62,63,64,65,66,67,68], "labels": false, "title": null, "tickSize": -7, "grid": false}}}},
{"data": {"name": "c3"}, "mark": {"type": "line", "opacity": 0}, "encoding": {"x": {"field": "t", "type": "quantitative", "axis": {"orient": "top", "values": [696,699,702,705,708,711,714,717,720], "labels": false, "title": null, "tickSize": -7, "grid": false}}, "y": {"field": "v", "type": "quantitative", "axis": null}}}
], "resolve": {"axis": {"x": "independent", "y": "independent"}}}
]}]}
]},
{"spacing": 12, "vconcat": [
{"title": {"text": "(b)", "orient": "bottom", "font": "Liberation Serif", "fontSize": 17, "offset": 17, "dx": 26}, "spacing": 0, "vconcat": [
{"title": {"text": ["Bioscope, v.0.05, 19.11.14; voltage output; 4mm, rotation 0°, 940 nm; reaction on human hand;", "Laboratory of Advanced Sensors, Cyb Res, Stuttgart"], "offset": 16}, "spacing": 0, "bounds": "flush", "vconcat": [
{"width": 588, "height": 204, "layer": [
{"data": {"name": "sb"}, "mark": "rect", "encoding": {"x": {"field": "t0", "type": "quantitative", "scale": {"domain": [635, 660], "nice": false, "zero": false}, "axis": {"orient": "top", "values": [635,636,637,638,639,640,641,642,643,644,645,646,647,648,649,650,651,652,653,654,655,656,657,658,659,660], "labels": false, "title": null, "tickSize": -3.5, "grid": false}}, "x2": {"field": "t1"}}},
{"data": {"name": "b1"}, "mark": {"type": "line", "clip": true}, "encoding": {"x": {"field": "t", "type": "quantitative", "axis": {"orient": "bottom", "values": [636,639,642,645,648,651,654,657,660], "labels": false, "title": null, "tickSize": -7, "grid": true}}, "y": {"field": "v", "type": "quantitative", "scale": {"domain": [61, 69], "nice": false, "zero": false}, "axis": {"orient": "left", "values": [62,63,64,65,66,67,68,69], "format": "~g", "title": "Bioscope output (Voltage, mV)", "titleX": -34, "titleY": 102, "tickSize": -7, "labelPadding": 14, "grid": true}}}},
{"data": {"name": "b1"}, "mark": {"type": "line", "opacity": 0}, "encoding": {"x": {"field": "t", "type": "quantitative", "axis": {"orient": "bottom", "values": [635,636,637,638,639,640,641,642,643,644,645,646,647,648,649,650,651,652,653,654,655,656,657,658,659,660], "labels": false, "title": null, "tickSize": -3.5, "grid": false}}, "y": {"field": "v", "type": "quantitative", "axis": {"orient": "right", "values": [62,63,64,65,66,67,68,69], "labels": false, "title": null, "tickSize": -7, "grid": false}}}},
{"data": {"name": "b1"}, "mark": {"type": "line", "opacity": 0}, "encoding": {"x": {"field": "t", "type": "quantitative", "axis": {"orient": "top", "values": [636,639,642,645,648,651,654,657,660], "labels": false, "title": null, "tickSize": -7, "grid": false}}, "y": {"field": "v", "type": "quantitative", "axis": null}}}
], "resolve": {"axis": {"x": "independent", "y": "independent"}}},
{"width": 588, "height": 205, "layer": [
{"data": {"name": "sb"}, "mark": "rect", "encoding": {"x": {"field": "t0", "type": "quantitative", "scale": {"domain": [635, 660], "nice": false, "zero": false}, "axis": {"orient": "top", "values": [635,636,637,638,639,640,641,642,643,644,645,646,647,648,649,650,651,652,653,654,655,656,657,658,659,660], "labels": false, "title": null, "tickSize": -3.5, "grid": false}}, "x2": {"field": "t1"}}},
{"data": {"name": "b2"}, "mark": {"type": "line", "clip": true}, "encoding": {"x": {"field": "t", "type": "quantitative", "axis": {"orient": "bottom", "values": [636,639,642,645,648,651,654,657,660], "labels": false, "title": null, "tickSize": -7, "grid": true}}, "y": {"field": "v", "type": "quantitative", "scale": {"domain": [20.8, 22.2], "nice": false, "zero": false}, "axis": {"orient": "left", "values": [21,21.2,21.4,21.6,21.8,22], "format": "~g", "title": "temperature, C", "titleX": -54, "titleY": 102.5, "tickSize": -7, "labelPadding": 14, "grid": true}}}},
{"data": {"name": "b2"}, "mark": {"type": "line", "opacity": 0}, "encoding": {"x": {"field": "t", "type": "quantitative", "axis": {"orient": "bottom", "values": [635,636,637,638,639,640,641,642,643,644,645,646,647,648,649,650,651,652,653,654,655,656,657,658,659,660], "labels": false, "title": null, "tickSize": -3.5, "grid": false}}, "y": {"field": "v", "type": "quantitative", "axis": {"orient": "right", "values": [21,21.2,21.4,21.6,21.8,22], "labels": false, "title": null, "tickSize": -7, "grid": false}}}},
{"data": {"name": "b2"}, "mark": {"type": "line", "opacity": 0}, "encoding": {"x": {"field": "t", "type": "quantitative", "axis": {"orient": "top", "values": [636,639,642,645,648,651,654,657,660], "labels": false, "title": null, "tickSize": -7, "grid": false}}, "y": {"field": "v", "type": "quantitative", "axis": null}}}
], "resolve": {"axis": {"x": "independent", "y": "independent"}}},
{"width": 588, "height": 186, "layer": [
{"data": {"name": "sb"}, "mark": "rect", "encoding": {"x": {"field": "t0", "type": "quantitative", "scale": {"domain": [635, 660], "nice": false, "zero": false}, "axis": {"orient": "top", "values": [635,636,637,638,639,640,641,642,643,644,645,646,647,648,649,650,651,652,653,654,655,656,657,658,659,660], "labels": false, "title": null, "tickSize": -3.5, "grid": false}}, "x2": {"field": "t1"}}},
{"data": {"name": "b3"}, "mark": {"type": "line", "clip": true}, "encoding": {"x": {"field": "t", "type": "quantitative", "axis": {"orient": "bottom", "values": [636,639,642,645,648,651,654,657,660], "labelExpr": "floor(datum.value/60) + ':' + (datum.value % 60 < 10 ? '0' : '') + (datum.value % 60)", "title": "Time, hours", "tickSize": -7, "labelPadding": 14, "titlePadding": 6, "grid": true}}, "y": {"field": "v", "type": "quantitative", "scale": {"domain": [64, 76], "nice": false, "zero": false}, "axis": {"orient": "left", "values": [64,66,68,70,72,74], "format": "~g", "title": "relative humidity, %", "titleX": -34, "titleY": 93, "tickSize": -7, "labelPadding": 14, "grid": true}}}},
{"data": {"name": "b3"}, "mark": {"type": "line", "opacity": 0}, "encoding": {"x": {"field": "t", "type": "quantitative", "axis": {"orient": "bottom", "values": [635,636,637,638,639,640,641,642,643,644,645,646,647,648,649,650,651,652,653,654,655,656,657,658,659,660], "labels": false, "title": null, "tickSize": -3.5, "grid": false}}, "y": {"field": "v", "type": "quantitative", "axis": {"orient": "right", "values": [64,66,68,70,72,74], "labels": false, "title": null, "tickSize": -7, "grid": false}}}},
{"data": {"name": "b3"}, "mark": {"type": "line", "opacity": 0}, "encoding": {"x": {"field": "t", "type": "quantitative", "axis": {"orient": "top", "values": [636,639,642,645,648,651,654,657,660], "labels": false, "title": null, "tickSize": -7, "grid": false}}, "y": {"field": "v", "type": "quantitative", "axis": null}}}
], "resolve": {"axis": {"x": "independent", "y": "independent"}}}
]}]},
{"title": {"text": "(d)", "orient": "bottom", "font": "Liberation Serif", "fontSize": 17, "offset": 17, "dx": 36}, "spacing": 0, "vconcat": [
{"title": {"text": ["Bioscope, v.0.05, 19.11.14; voltage output; 4mm, rotation 180° vertical axis, 940 nm; reaction on human hand;", "Laboratory of Advanced Sensors, Cyb Res, Stuttgart"], "offset": 16, "dx": 10}, "spacing": 0, "bounds": "flush", "vconcat": [
{"width": 600, "height": 211, "layer": [
{"data": {"name": "sd"}, "mark": "rect", "encoding": {"x": {"field": "t0", "type": "quantitative", "scale": {"domain": [740, 770], "nice": false, "zero": false}, "axis": {"orient": "top", "values": [740,741,742,743,744,745,746,747,748,749,750,751,752,753,754,755,756,757,758,759,760,761,762,763,764,765,766,767,768,769,770], "labels": false, "title": null, "tickSize": -3.5, "grid": false}}, "x2": {"field": "t1"}}},
{"data": {"name": "d1"}, "mark": {"type": "line", "clip": true}, "encoding": {"x": {"field": "t", "type": "quantitative", "axis": {"orient": "bottom", "values": [741,744,747,750,753,756,759,762,765,768], "labels": false, "title": null, "tickSize": -7, "grid": true}}, "y": {"field": "v", "type": "quantitative", "scale": {"domain": [51, 54], "nice": false, "zero": false}, "axis": {"orient": "left", "values": [51.5,52,52.5,53,53.5,54], "format": "~g", "title": "Bioscope output (Voltage, mV)", "titleX": -53, "titleY": 105.5, "tickSize": -7, "labelPadding": 14, "grid": true}}}},
{"data": {"name": "d1"}, "mark": {"type": "line", "opacity": 0}, "encoding": {"x": {"field": "t", "type": "quantitative", "axis": {"orient": "bottom", "values": [740,741,742,743,744,745,746,747,748,749,750,751,752,753,754,755,756,757,758,759,760,761,762,763,764,765,766,767,768,769,770], "labels": false, "title": null, "tickSize": -3.5, "grid": false}}, "y": {"field": "v", "type": "quantitative", "axis": {"orient": "right", "values": [51.5,52,52.5,53,53.5,54], "labels": false, "title": null, "tickSize": -7, "grid": false}}}},
{"data": {"name": "d1"}, "mark": {"type": "line", "opacity": 0}, "encoding": {"x": {"field": "t", "type": "quantitative", "axis": {"orient": "top", "values": [741,744,747,750,753,756,759,762,765,768], "labels": false, "title": null, "tickSize": -7, "grid": false}}, "y": {"field": "v", "type": "quantitative", "axis": null}}}
], "resolve": {"axis": {"x": "independent", "y": "independent"}}},
{"width": 600, "height": 209, "layer": [
{"data": {"name": "sd"}, "mark": "rect", "encoding": {"x": {"field": "t0", "type": "quantitative", "scale": {"domain": [740, 770], "nice": false, "zero": false}, "axis": {"orient": "top", "values": [740,741,742,743,744,745,746,747,748,749,750,751,752,753,754,755,756,757,758,759,760,761,762,763,764,765,766,767,768,769,770], "labels": false, "title": null, "tickSize": -3.5, "grid": false}}, "x2": {"field": "t1"}}},
{"data": {"name": "d2"}, "mark": {"type": "line", "clip": true}, "encoding": {"x": {"field": "t", "type": "quantitative", "axis": {"orient": "bottom", "values": [741,744,747,750,753,756,759,762,765,768], "labels": false, "title": null, "tickSize": -7, "grid": true}}, "y": {"field": "v", "type": "quantitative", "scale": {"domain": [20.8, 22.8], "nice": false, "zero": false}, "axis": {"orient": "left", "values": [21,21.2,21.4,21.6,21.8,22,22.2,22.4,22.6], "format": "~g", "title": "temperature, C", "titleX": -57, "titleY": 104.5, "tickSize": -7, "labelPadding": 14, "grid": true}}}},
{"data": {"name": "d2"}, "mark": {"type": "line", "opacity": 0}, "encoding": {"x": {"field": "t", "type": "quantitative", "axis": {"orient": "bottom", "values": [740,741,742,743,744,745,746,747,748,749,750,751,752,753,754,755,756,757,758,759,760,761,762,763,764,765,766,767,768,769,770], "labels": false, "title": null, "tickSize": -3.5, "grid": false}}, "y": {"field": "v", "type": "quantitative", "axis": {"orient": "right", "values": [21,21.2,21.4,21.6,21.8,22,22.2,22.4,22.6], "labels": false, "title": null, "tickSize": -7, "grid": false}}}},
{"data": {"name": "d2"}, "mark": {"type": "line", "opacity": 0}, "encoding": {"x": {"field": "t", "type": "quantitative", "axis": {"orient": "top", "values": [741,744,747,750,753,756,759,762,765,768], "labels": false, "title": null, "tickSize": -7, "grid": false}}, "y": {"field": "v", "type": "quantitative", "axis": null}}}
], "resolve": {"axis": {"x": "independent", "y": "independent"}}},
{"width": 600, "height": 191, "layer": [
{"data": {"name": "sd"}, "mark": "rect", "encoding": {"x": {"field": "t0", "type": "quantitative", "scale": {"domain": [740, 770], "nice": false, "zero": false}, "axis": {"orient": "top", "values": [740,741,742,743,744,745,746,747,748,749,750,751,752,753,754,755,756,757,758,759,760,761,762,763,764,765,766,767,768,769,770], "labels": false, "title": null, "tickSize": -3.5, "grid": false}}, "x2": {"field": "t1"}}},
{"data": {"name": "d3"}, "mark": {"type": "line", "clip": true}, "encoding": {"x": {"field": "t", "type": "quantitative", "axis": {"orient": "bottom", "values": [741,744,747,750,753,756,759,762,765,768], "labelExpr": "floor(datum.value/60) + ':' + (datum.value % 60 < 10 ? '0' : '') + (datum.value % 60)", "title": "Time, hours", "tickSize": -7, "labelPadding": 14, "titlePadding": 6, "grid": true}}, "y": {"field": "v", "type": "quantitative", "scale": {"domain": [60, 74], "nice": false, "zero": false}, "axis": {"orient": "left", "values": [60,62,64,66,68,70,72], "format": "~g", "title": "relative humidity, %", "titleX": -38, "titleY": 95.5, "tickSize": -7, "labelPadding": 14, "grid": true}}}},
{"data": {"name": "d3"}, "mark": {"type": "line", "opacity": 0}, "encoding": {"x": {"field": "t", "type": "quantitative", "axis": {"orient": "bottom", "values": [740,741,742,743,744,745,746,747,748,749,750,751,752,753,754,755,756,757,758,759,760,761,762,763,764,765,766,767,768,769,770], "labels": false, "title": null, "tickSize": -3.5, "grid": false}}, "y": {"field": "v", "type": "quantitative", "axis": {"orient": "right", "values": [60,62,64,66,68,70,72], "labels": false, "title": null, "tickSize": -7, "grid": false}}}},
{"data": {"name": "d3"}, "mark": {"type": "line", "opacity": 0}, "encoding": {"x": {"field": "t", "type": "quantitative", "axis": {"orient": "top", "values": [741,744,747,750,753,756,759,762,765,768], "labels": false, "title": null, "tickSize": -7, "grid": false}}, "y": {"field": "v", "type": "quantitative", "axis": null}}}
], "resolve": {"axis": {"x": "independent", "y": "independent"}}}
]}]}
]}
]
}
